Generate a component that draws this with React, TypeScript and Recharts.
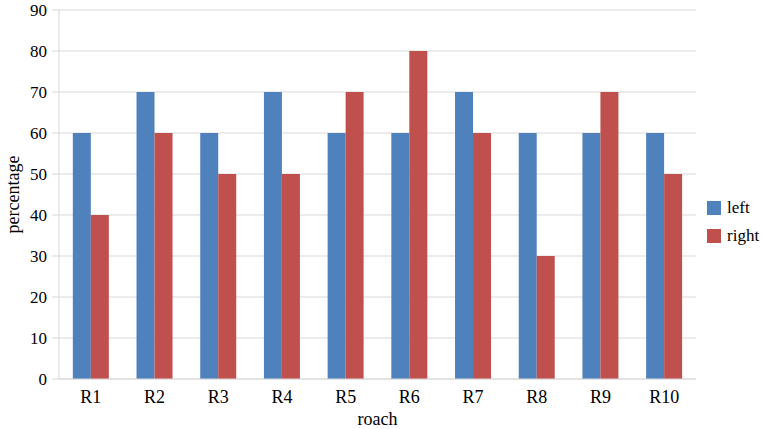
import { BarChart, Bar, XAxis, YAxis, CartesianGrid, Legend } from "recharts";

const roaches = ["R1", "R2", "R3", "R4", "R5", "R6", "R7", "R8", "R9", "R10"];
const leftValues = [60, 70, 60, 70, 60, 60, 70, 60, 60, 60];
const rightValues = [40, 60, 50, 50, 70, 80, 60, 30, 70, 50];
const yTicks = [0, 10, 20, 30, 40, 50, 60, 70, 80, 90];

const COLORS = {
  left: "#4F81BD",
  right: "#C0504D",
  grid: "#D9D9D9",
};

const FONT = "Liberation Serif, Tinos, DejaVu Serif, serif";

const data = roaches.map((name, i) => ({
  name,
  left: leftValues[i],
  right: rightValues[i],
}));

// vertical legend on the right, like the original
const LegendBox = () => (
  <div style={{ fontFamily: FONT, fontSize: 17, color: "#000" }}>
    {[
      { label: "left", color: COLORS.left },
      { label: "right", color: COLORS.right },
    ].map((item) => (
      <div
        key={item.label}
        style={{ display: "flex", alignItems: "center", height: 28 }}
      >
        <span
          style={{
            display: "inline-block",
            width: 14,
            height: 14,
            background: item.color,
            marginRight: 6,
          }}
        />
        <span>{item.label}</span>
      </div>
    ))}
  </div>
);

export default function App() {
  return (
    <div
      style={{
        position: "absolute",
        left: 0,
        top: 0,
        width: 763,
        height: 429,
        background: "#fff",
        fontFamily: FONT,
      }}
    >
      <BarChart
        width={763}
        height={429}
        data={data}
        margin={{ top: 10, right: 11, left: 0, bottom: 0 }}
        barCategoryGap="21.7%"
        barGap={0}
        style={{ fontFamily: FONT }}
      >
        <CartesianGrid vertical={false} stroke={COLORS.grid} />
        <XAxis
          dataKey="name"
          height={50}
          tickLine={false}
          stroke={COLORS.grid}
          tickMargin={5}
          tick={{ fill: "#000", fontSize: 18, fontFamily: FONT }}
          label={{
            value: "roach",
            position: "insideBottom",
            offset: 4,
            fill: "#000",
            fontSize: 18,
            fontFamily: FONT,
          }}
        />
        <YAxis
          width={59}
          domain={[0, 90]}
          ticks={yTicks}
          interval={0}
          stroke={COLORS.grid}
          tickSize={7}
          tickMargin={5}
          tick={{ fill: "#000", fontSize: 17, fontFamily: FONT }}
          label={{
            value: "percentage",
            angle: -90,
            position: "insideLeft",
            offset: 13,
            style: { textAnchor: "middle" },
            fill: "#000",
            fontSize: 18,
            fontFamily: FONT,
          }}
        />
        <Legend
          layout="horizontal"
          verticalAlign="middle"
          align="right"
          content={<LegendBox />}
          wrapperStyle={{ left: 707, top: 194, width: 56, right: "auto" }}
        />
        <Bar dataKey="left" name="left" fill={COLORS.left} isAnimationActive={false} />
        <Bar dataKey="right" name="right" fill={COLORS.right} isAnimationActive={false} />
      </BarChart>
    </div>
  );
}
